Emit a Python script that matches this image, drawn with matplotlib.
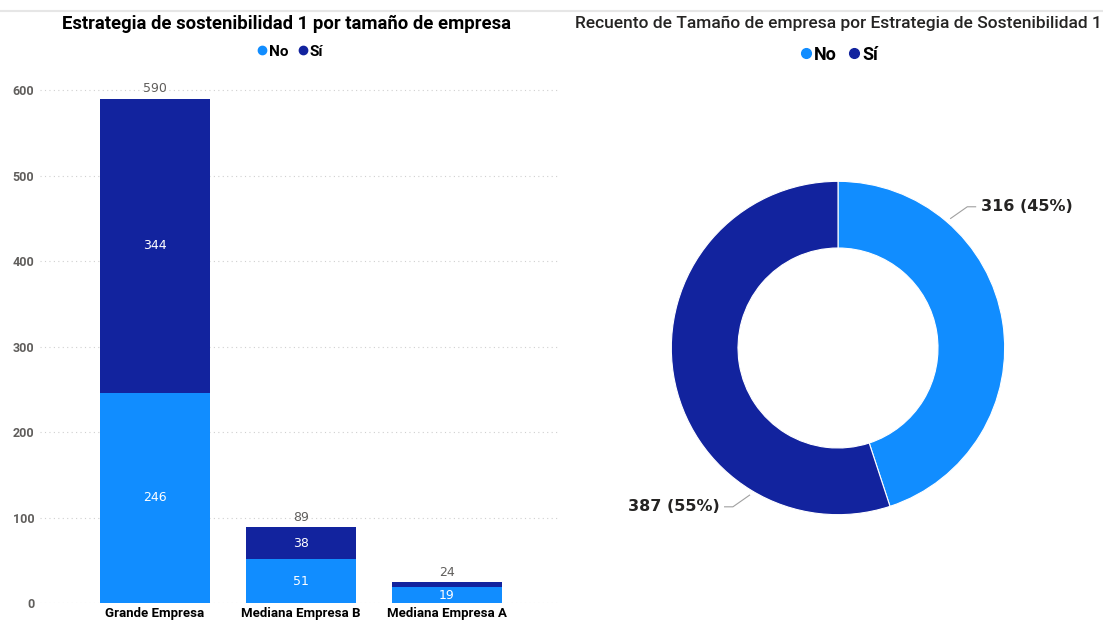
import numpy as np
import matplotlib
matplotlib.use("Agg")
import matplotlib.pyplot as plt
from matplotlib.lines import Line2D

categorias = ["Grande Empresa", "Mediana Empresa B", "Mediana Empresa A"]
no_vals = [246, 51, 19]
si_vals = [344, 38, 5]
series = ["No", "Sí"]
yticks = [0, 100, 200, 300, 400, 500, 600]

c_no = "#118DFF"
c_si = "#12239E"
gris = "#605E5C"
oscuro = "#252423"
fuente = ["Roboto", "DejaVu Sans"]

plt.rcParams["font.family"] = ["DejaVu Sans"]
fig = plt.figure(figsize=(11.03, 6.21), dpi=100)

# línea gris superior
fig.add_artist(Line2D([0.0, 1.0], [0.982, 0.982], color="#e6e6e6", lw=1.5))

# ---- barras apiladas ----
ax = fig.add_axes([0.036, 0.029, 0.471, 0.853])
x = np.arange(len(categorias))
ax.bar(x, no_vals, width=0.75, color=c_no)
ax.bar(x, si_vals, width=0.75, bottom=no_vals, color=c_si)
for i in range(len(categorias)):
    ax.text(x[i], no_vals[i] / 2 if no_vals[i] > 30 else no_vals[i] / 2 - 1, str(no_vals[i]),
            ha="center", va="center", color="white", fontsize=9)
    if si_vals[i] > 20:
        ax.text(x[i], no_vals[i] + si_vals[i] / 2, str(si_vals[i]),
                ha="center", va="center", color="white", fontsize=9)
    tot = no_vals[i] + si_vals[i]
    ax.text(x[i], tot + 4, str(tot), ha="center", va="bottom", color=gris, fontsize=9)
ax.set_xlim(-0.79, 2.77)
ax.set_ylim(0, 620)
ax.set_yticks(yticks)
ax.set_xticks(x)
ax.set_xticklabels(categorias, fontsize=9.5, fontweight="bold", color="black", family=fuente)
ax.tick_params(axis="y", labelsize=9, colors=gris, length=0, pad=4)
ax.tick_params(axis="x", length=0, pad=3)
for lab in ax.get_yticklabels():
    lab.set_fontweight("bold")
    lab.set_family(fuente)
ax.grid(axis="y", color="#d0d0d0", linestyle=(0, (1, 3)), linewidth=0.8)
ax.set_axisbelow(True)
for s in ax.spines.values():
    s.set_visible(False)

fig.text(0.26, 0.962, "Estrategia de sostenibilidad 1 por tamaño de empresa",
         ha="center", va="center", fontsize=13.3, fontweight="bold", color="black",
         family=fuente)
fig.legend(handles=[Line2D([], [], marker="o", ls="", color=c_no, markersize=6),
                    Line2D([], [], marker="o", ls="", color=c_si, markersize=6)],
           labels=series, loc="center", bbox_to_anchor=(0.26, 0.917), ncol=2,
           frameon=False, handletextpad=-0.3, columnspacing=0.2, handlelength=1.5,
           prop={"weight": "bold", "size": 11, "family": fuente})

# ---- dona ----
tot_no = sum(no_vals)
tot_si = sum(si_vals)
totales = [tot_no, tot_si]
ax2 = fig.add_axes([638 / 1103, 1 - 548 / 621, 400 / 1103, 400 / 621])
ax2.pie(totales, colors=[c_no, c_si], startangle=90, counterclock=False,
        wedgeprops=dict(width=0.4, edgecolor="white", linewidth=0.8), radius=1)
ax2.set_xlim(-1.2, 1.2)
ax2.set_ylim(-1.2, 1.2)
ax2.set_aspect("equal")
ax2.axis("off")

suma = sum(totales)
etiquetas = [f"{v} ({round(100 * v / suma)}%)" for v in totales]
angulos = [49, 239]
for v, et, ang in zip(totales, etiquetas, angulos):
    a = np.deg2rad(ang)
    x0, y0 = 1.03 * np.cos(a), 1.03 * np.sin(a)
    dx = 1 if np.cos(a) > 0 else -1
    x1, y1 = x0 + dx * 0.1, y0 + (0.07 if np.sin(a) > 0 else -0.07)
    x2 = x1 + dx * 0.05
    ax2.plot([x0, x1, x2], [y0, y1, y1], color="#a0a0a0", lw=0.8, clip_on=False)
    ax2.text(x2 + dx * 0.03, y1, et, ha="left" if dx > 0 else "right", va="center",
             fontsize=11.5, fontweight="bold", color=oscuro)

fig.text(0.76, 0.962, "Recuento de Tamaño de empresa por Estrategia de Sostenibilidad 1",
         ha="center", va="center", fontsize=12.5, color=oscuro, family=fuente,
         fontweight="medium")
fig.legend(handles=[Line2D([], [], marker="o", ls="", color=c_no, markersize=7),
                    Line2D([], [], marker="o", ls="", color=c_si, markersize=7)],
           labels=series, loc="center", bbox_to_anchor=(0.757, 0.912), ncol=2,
           frameon=False, handletextpad=-0.3, columnspacing=0.2, handlelength=1.5,
           prop={"weight": "bold", "size": 13, "family": fuente})

fig.savefig("out.png", dpi=100)
